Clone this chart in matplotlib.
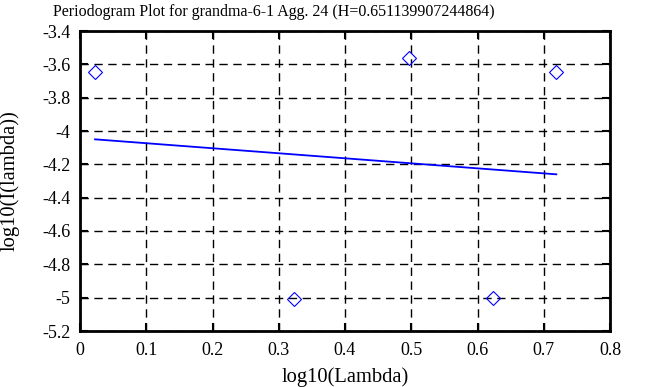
import matplotlib
matplotlib.use("Agg")
import matplotlib.pyplot as plt
import numpy as np

plt.rcParams['font.family'] = ['Liberation Serif', 'DejaVu Serif']

title = "Periodogram Plot for grandma-6-1 Agg. 24 (H=0.651139907244864)"
log_lambda = [0.0227, 0.3228, 0.497, 0.623, 0.719]
log_I = [-3.648, -5.005, -3.563, -5.003, -3.648]
fit_x = [0.0227, 0.719]
fit_y = [-4.05, -4.26]
xticks = [0, 0.1, 0.2, 0.3, 0.4, 0.5, 0.6, 0.7, 0.8]
yticks = [-5.2, -5, -4.8, -4.6, -4.4, -4.2, -4, -3.8, -3.6, -3.4]

fig = plt.figure(figsize=(6.63, 3.87), dpi=100)
ax = fig.add_axes([80/663, (387-331)/387, (610-80)/663, (331-31)/387])

ax.plot(log_lambda, log_I, linestyle='none', marker='D', markersize=7,
        markerfacecolor='none', markeredgecolor='blue', markeredgewidth=0.8)
ax.plot(fit_x, fit_y, color='blue', linewidth=1.3)

ax.set_xlim(0, 0.8)
ax.set_ylim(-5.2, -3.4)
ax.set_xticks(xticks)
ax.set_yticks(yticks)
ax.set_xticklabels([f"{v:g}" for v in xticks])
ax.set_yticklabels([f"{v:g}" for v in yticks])
ax.grid(True, color='black', linestyle=(0, (6, 4)), linewidth=1)
ax.tick_params(direction='in', length=6, width=1.5, top=True, right=True,
               labelsize=13)
ax.tick_params(axis='x', pad=8)
ax.tick_params(axis='y', pad=7)
for s in ax.spines.values():
    s.set_linewidth(2)
ax.set_xlabel("log10(Lambda)", fontsize=14.8)
ax.xaxis.set_label_coords(0.5, -(377 - 331) / 300, transform=ax.transAxes)
ax.xaxis.label.set_va('center')
ax.set_ylabel("log10(I(lambda))", fontsize=14.8)
ax.yaxis.set_label_coords((10 - 80) / 530, 0.5, transform=ax.transAxes)
ax.yaxis.label.set_va('center')
fig.text(53/663, 1 - 12/387, title, fontsize=11.5, ha='left', va='center')

fig.savefig("out.png", dpi=100)
